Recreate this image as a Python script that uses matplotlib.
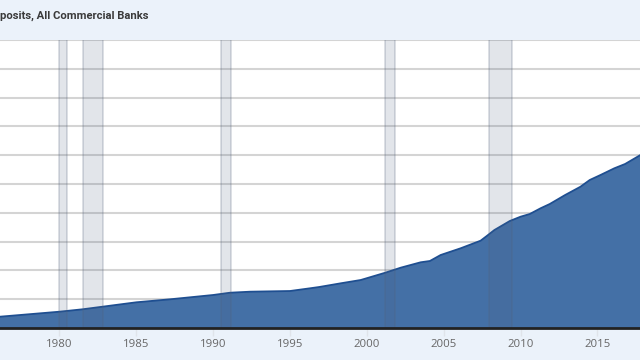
import numpy as np
import matplotlib.pyplot as plt

# Total deposits, all commercial banks (billions of dollars)
years = [1976.13, 1980.0, 1981.5, 1982.8, 1985.0, 1987.2, 1990.0, 1991.1, 1992.4,
         1995.0, 1996.3, 1996.9, 1998.3, 1999.6, 2001.2, 2002.2, 2003.5, 2004.1,
         2004.8, 2006.1, 2007.4, 2007.8, 2008.3, 2009.3, 2010.0, 2010.6, 2011.3,
         2011.9, 2012.9, 2013.9, 2014.5, 2015.2, 2016.1, 2016.8, 2017.8]
deposits = [785, 1132, 1299, 1479, 1785, 1993, 2292, 2451, 2521,
            2569, 2757, 2847, 3104, 3333, 3840, 4188, 4563, 4653,
            5069, 5535, 6063, 6389, 6806, 7431, 7729, 7917, 8313,
            8611, 9236, 9813, 10278, 10625, 11090, 11389, 12014]

recession_start = [1980.0, 1981.5, 1990.5, 2001.17, 2007.92]
recession_end = [1980.5, 1982.83, 1991.17, 2001.83, 2009.42]

tick_years = [1980, 1985, 1990, 1995, 2000, 2005, 2010, 2015]
title = "posits, All Commercial Banks"

fig = plt.figure(figsize=(6.4, 3.6), dpi=100)
fig.patch.set_facecolor('#ebf2fa')

ax = fig.add_axes([0, 32/360, 1, 288/360])
ax.set_facecolor('white')

ax.fill_between(years, deposits, 0, color='#4470a6', zorder=2, linewidth=0)
ax.plot(years, deposits, color='#1f4f91', linewidth=1.3, zorder=3)

for s, e in zip(recession_start, recession_end):
    ax.axvspan(s, e, facecolor=(0.31, 0.39, 0.51), alpha=0.16, linewidth=0, zorder=4)
    ax.axvline(s, color=(0.33, 0.38, 0.47), alpha=0.22, linewidth=1.3, zorder=4)
    ax.axvline(e, color=(0.33, 0.38, 0.47), alpha=0.22, linewidth=1.3, zorder=4)

ax.set_xlim(1976.13, 2017.77)
ax.set_ylim(0, 20000)
ax.set_yticks(np.arange(0, 20001, 2000))
ax.yaxis.grid(True, color='#d4d4d4', linewidth=1.5, zorder=1)
ax.set_axisbelow(True)
ax.tick_params(axis='y', left=False, labelleft=False)

ax.set_xticks(tick_years)
ax.set_xticklabels([str(y) for y in tick_years], fontsize=8.2, color='#666666',
                   fontfamily='Open Sans')
ax.tick_params(axis='x', length=6, color='#e0e4ea', width=1, pad=2)

for side in ['top', 'left', 'right']:
    ax.spines[side].set_visible(False)
ax.spines['bottom'].set_color('#222222')
ax.spines['bottom'].set_linewidth(2)
ax.spines['bottom'].set_zorder(5)

fig.text(0.0, 1 - 16/360, title, fontsize=8.1, fontweight='bold', color='#3a3a3a',
         fontfamily='Roboto', va='center', ha='left')

plt.savefig('out.png', dpi=100)
